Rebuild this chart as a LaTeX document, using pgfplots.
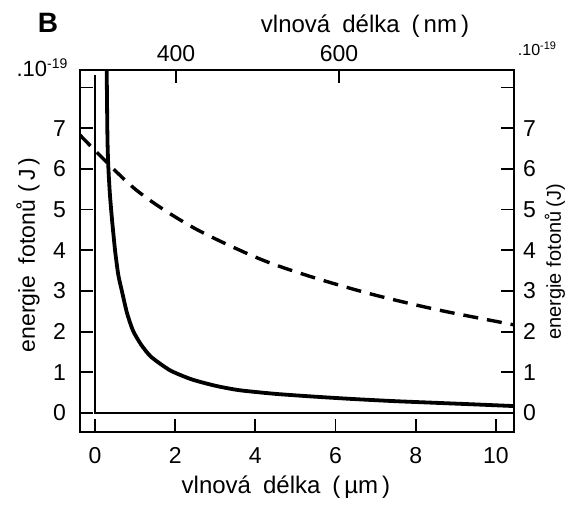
\documentclass[border=0pt]{standalone}
\usepackage{pgfplots}
\pgfplotsset{compat=1.18}
\usepackage{fontspec}
\setmainfont{Liberation Sans}
\begin{document}
\begin{tikzpicture}[x=1pt,y=1pt]
\useasboundingbox (0,0) rectangle (571,505);
\pgfplotsset{
  common/.style={
    at={(80pt,73pt)}, anchor=south west, scale only axis,
    width=434pt, height=362pt,
    ymin=-0.467, ymax=8.43,
    axis line style={line width=2.2pt, black},
    tick style={line width=1.8pt, black},
    tick align=inside, major tick length=13pt,
    minor tick num=0,
    /pgf/number format/assume math mode=true,
    ticklabel style={font=\fontsize{23}{27}\selectfont, inner sep=0pt},
    ytick={0,1,2,3,4,5,6,7,8},
    yticklabels={0,1,2,3,4,5,6,7,{}},
    clip=true,
  }
}
\begin{axis}[common,
  xmin=-0.374, xmax=10.45,
  xtick={0,2,4,6,8,10},
  xtick pos=left, ytick pos=left,
  xticklabel style={anchor=north, yshift=-15pt},
  yticklabel style={anchor=east, xshift=-14pt},
]
\addplot[black, line width=1.8pt] coordinates {(0,8.3) (0,0) (10.45,0)};
\addplot[black, line width=3.8pt, smooth, tension=0.4] coordinates {
(0.29,8.6) (0.31,6.8) (0.33,6.1) (0.37,5.4) (0.42,4.8) (0.5,4.0) (0.58,3.4)
(0.67,3.0) (0.8,2.45) (0.95,2.02) (1.15,1.68) (1.4,1.38) (1.87,1.05)
(2.4,0.83) (3.0,0.67) (3.6,0.56) (4.5,0.47) (5.5,0.40) (6.5,0.34)
(7.5,0.29) (8.5,0.25) (9.5,0.21) (10.45,0.17)};
\end{axis}
\begin{axis}[common,
  xmin=282.2, xmax=814.7,
  xtick={400,600},
  xtick pos=right, xticklabel pos=right,
  ytick pos=right, yticklabel pos=right,
  xticklabel style={anchor=south, yshift=8pt},
  yticklabel style={anchor=west, xshift=9pt},
]
\addplot[black, line width=3.4pt, smooth, dash pattern=on 15pt off 9pt] coordinates {
(282.2,6.83) (350,5.50) (420,4.57) (500,3.81) (564,3.36) (640,2.92) (720,2.54) (806,2.20) (814.7,2.17)};
\end{axis}
\node at (48,482) {\fontsize{28}{30}\selectfont\bfseries B};
\node at (365,479) {\fontsize{24}{28}\selectfont vlnová\hspace{0.5em}délka\hspace{0.5em}(\,nm\,)};
\node at (286,18) {\fontsize{24}{28}\selectfont vlnová\hspace{0.5em}délka\hspace{0.5em}(\,µm\,)};
\node at (42,437) {\fontsize{22}{24}\selectfont .10\raisebox{8pt}{\fontsize{14}{16}\selectfont -19}};
\node at (537,456) {\fontsize{16}{18}\selectfont .10\raisebox{6pt}{\fontsize{11}{13}\selectfont -19}};
\node[rotate=90] at (28,250) {\fontsize{23}{26}\selectfont energie\hspace{0.5em}fotonů\hspace{0.35em}(\,J\,)};
\node[rotate=90] at (555,243) {\fontsize{20}{22}\selectfont energie\hspace{0.3em}fotonů\hspace{0.2em}(J)};
\end{tikzpicture}
\end{document}
